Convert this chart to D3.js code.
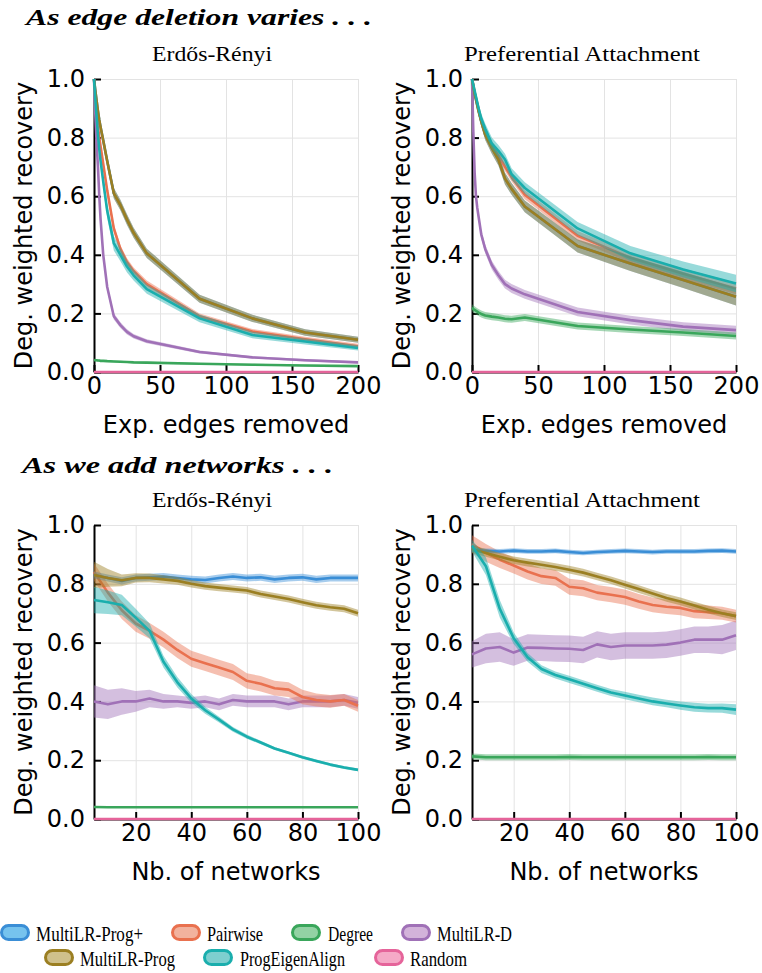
<!DOCTYPE html>
<html>
<head>
<meta charset="utf-8">
<script src="https://cdn.jsdelivr.net/npm/d3@7"></script>
<style>
  body { margin: 0; background: #fff; }
  svg { display: block; }
</style>
</head>
<body>
<div id="chart"></div>
<script>
// Method names, in legend order
const methods = ["MultiLR-Prog+", "Pairwise", "Degree", "MultiLR-D", "MultiLR-Prog", "ProgEigenAlign", "Random"];

// x values
const edgesRemoved = [0, 1, 2, 3, 4, 5, 7, 10, 15, 20, 25, 30, 40, 80, 120, 160, 200];
const networkCounts = [5, 10, 15, 20, 25, 30, 35, 40, 45, 50, 55, 60, 65, 70, 75, 80, 85, 90, 95, 100];

// tick labels
const edgeTicks = [0, 50, 100, 150, 200];
const networkTicks = [20, 40, 60, 80, 100];
const recoveryTicks = [0, 0.2, 0.4, 0.6, 0.8, 1.0];

// --- Erdos-Renyi, edge deletion (mean, half band)
const erEdgeProgPlus = [1.0, 0.96, 0.925, 0.89, 0.86, 0.835, 0.79, 0.72, 0.61, 0.57, 0.52, 0.475, 0.405, 0.25, 0.183, 0.135, 0.11];
const erEdgePairwise = [1.0, 0.94, 0.89, 0.84, 0.80, 0.77, 0.71, 0.62, 0.49, 0.42, 0.375, 0.345, 0.30, 0.19, 0.138, 0.112, 0.088];
const erEdgeDegree = [0.041, 0.040, 0.040, 0.039, 0.039, 0.038, 0.038, 0.037, 0.036, 0.035, 0.034, 0.033, 0.032, 0.028, 0.025, 0.022, 0.020];
const erEdgeMultiD = [1.0, 0.88, 0.78, 0.70, 0.60, 0.52, 0.40, 0.29, 0.19, 0.16, 0.137, 0.122, 0.105, 0.068, 0.05, 0.04, 0.033];
const erEdgeProg = [1.0, 0.96, 0.925, 0.89, 0.86, 0.835, 0.79, 0.72, 0.61, 0.57, 0.52, 0.475, 0.405, 0.25, 0.183, 0.135, 0.11];
const erEdgeEigen = [1.0, 0.93, 0.87, 0.81, 0.76, 0.72, 0.65, 0.55, 0.44, 0.40, 0.36, 0.33, 0.283, 0.183, 0.126, 0.104, 0.082];
const erEdgeRandom = [0, 0, 0, 0, 0, 0, 0, 0, 0, 0, 0, 0, 0, 0, 0, 0, 0];

const erEdgeProgPlusSd = [0, 0.01, 0.012, 0.014, 0.015, 0.015, 0.016, 0.017, 0.018, 0.018, 0.018, 0.017, 0.016, 0.014, 0.012, 0.011, 0.01];
const erEdgePairwiseSd = [0, 0.008, 0.01, 0.012, 0.012, 0.013, 0.013, 0.014, 0.014, 0.013, 0.013, 0.012, 0.012, 0.01, 0.009, 0.008, 0.008];
const erEdgeDegreeSd = [0.003, 0.003, 0.003, 0.003, 0.003, 0.003, 0.003, 0.003, 0.003, 0.003, 0.003, 0.003, 0.003, 0.003, 0.003, 0.003, 0.003];
const erEdgeMultiDSd = [0, 0.01, 0.012, 0.012, 0.012, 0.012, 0.012, 0.012, 0.011, 0.01, 0.009, 0.008, 0.007, 0.005, 0.004, 0.004, 0.004];
const erEdgeProgSd = [0, 0.01, 0.012, 0.014, 0.015, 0.015, 0.016, 0.017, 0.018, 0.018, 0.018, 0.017, 0.016, 0.014, 0.012, 0.011, 0.01];
const erEdgeEigenSd = [0, 0.012, 0.015, 0.018, 0.02, 0.022, 0.024, 0.025, 0.025, 0.022, 0.02, 0.018, 0.016, 0.013, 0.011, 0.01, 0.009];
const erEdgeRandomSd = [0.001, 0.001, 0.001, 0.001, 0.001, 0.001, 0.001, 0.001, 0.001, 0.001, 0.001, 0.001, 0.001, 0.001, 0.001, 0.001, 0.001];

// --- Preferential attachment, edge deletion
const paEdgeProgPlus = [1.0, 0.975, 0.95, 0.93, 0.91, 0.89, 0.855, 0.81, 0.765, 0.725, 0.66, 0.625, 0.565, 0.43, 0.37, 0.314, 0.257];
const paEdgePairwise = [1.0, 0.98, 0.955, 0.935, 0.915, 0.895, 0.86, 0.82, 0.77, 0.74, 0.70, 0.665, 0.605, 0.465, 0.39, 0.335, 0.285];
const paEdgeDegree = [0.219, 0.215, 0.212, 0.209, 0.206, 0.203, 0.198, 0.193, 0.189, 0.186, 0.182, 0.18, 0.186, 0.157, 0.145, 0.135, 0.123];
const paEdgeMultiD = [1.0, 0.82, 0.68, 0.60, 0.56, 0.53, 0.47, 0.42, 0.365, 0.33, 0.30, 0.285, 0.265, 0.205, 0.177, 0.155, 0.143];
const paEdgeProg = [1.0, 0.975, 0.95, 0.93, 0.91, 0.89, 0.855, 0.81, 0.765, 0.725, 0.66, 0.625, 0.565, 0.43, 0.37, 0.314, 0.257];
const paEdgeEigen = [1.0, 0.98, 0.96, 0.94, 0.92, 0.90, 0.865, 0.83, 0.78, 0.755, 0.725, 0.675, 0.628, 0.49, 0.405, 0.35, 0.302];
const paEdgeRandom = [0, 0, 0, 0, 0, 0, 0, 0, 0, 0, 0, 0, 0, 0, 0, 0, 0];

const paEdgeProgPlusSd = [0, 0.01, 0.012, 0.014, 0.015, 0.016, 0.017, 0.018, 0.02, 0.02, 0.02, 0.02, 0.02, 0.022, 0.025, 0.027, 0.03];
const paEdgePairwiseSd = [0, 0.008, 0.01, 0.012, 0.012, 0.013, 0.013, 0.014, 0.015, 0.015, 0.015, 0.015, 0.015, 0.016, 0.017, 0.018, 0.02];
const paEdgeDegreeSd = [0.012, 0.012, 0.012, 0.012, 0.012, 0.012, 0.012, 0.012, 0.012, 0.012, 0.012, 0.012, 0.012, 0.012, 0.012, 0.012, 0.012];
const paEdgeMultiDSd = [0, 0.015, 0.015, 0.015, 0.015, 0.015, 0.015, 0.015, 0.015, 0.015, 0.015, 0.015, 0.015, 0.015, 0.015, 0.015, 0.015];
const paEdgeProgSd = [0, 0.01, 0.012, 0.014, 0.015, 0.016, 0.017, 0.018, 0.02, 0.02, 0.02, 0.02, 0.02, 0.022, 0.025, 0.027, 0.03];
const paEdgeEigenSd = [0, 0.01, 0.012, 0.014, 0.015, 0.016, 0.017, 0.018, 0.02, 0.02, 0.02, 0.02, 0.02, 0.022, 0.025, 0.027, 0.03];
const paEdgeRandomSd = [0.001, 0.001, 0.001, 0.001, 0.001, 0.001, 0.001, 0.001, 0.001, 0.001, 0.001, 0.001, 0.001, 0.001, 0.001, 0.001, 0.001];

// --- Erdos-Renyi, adding networks
const erNetProgPlus = [0.83, 0.82, 0.81, 0.82, 0.822, 0.825, 0.82, 0.815, 0.813, 0.82, 0.825, 0.82, 0.822, 0.815, 0.82, 0.822, 0.815, 0.82, 0.82, 0.82];
const erNetPairwise = [0.84, 0.77, 0.71, 0.665, 0.64, 0.61, 0.575, 0.545, 0.53, 0.515, 0.50, 0.47, 0.46, 0.445, 0.44, 0.415, 0.405, 0.40, 0.405, 0.385];
const erNetDegree = [0.041, 0.04, 0.04, 0.04, 0.04, 0.04, 0.04, 0.04, 0.04, 0.04, 0.04, 0.04, 0.04, 0.04, 0.04, 0.04, 0.04, 0.04, 0.04, 0.04];
const erNetMultiD = [0.40, 0.39, 0.40, 0.40, 0.41, 0.40, 0.40, 0.395, 0.40, 0.39, 0.405, 0.40, 0.40, 0.40, 0.39, 0.40, 0.40, 0.40, 0.405, 0.395];
const erNetProg = [0.83, 0.82, 0.812, 0.82, 0.82, 0.815, 0.81, 0.80, 0.792, 0.787, 0.782, 0.777, 0.765, 0.757, 0.748, 0.737, 0.727, 0.72, 0.715, 0.70];
const erNetEigen = [0.745, 0.737, 0.728, 0.685, 0.64, 0.535, 0.465, 0.41, 0.37, 0.338, 0.305, 0.28, 0.26, 0.24, 0.225, 0.21, 0.197, 0.185, 0.175, 0.167];
const erNetRandom = [0, 0, 0, 0, 0, 0, 0, 0, 0, 0, 0, 0, 0, 0, 0, 0, 0, 0, 0, 0];

const erNetProgPlusSd = [0.012, 0.012, 0.012, 0.012, 0.012, 0.012, 0.012, 0.012, 0.012, 0.012, 0.012, 0.012, 0.012, 0.012, 0.012, 0.012, 0.012, 0.012, 0.012, 0.012];
const erNetPairwiseSd = [0.03, 0.03, 0.03, 0.028, 0.027, 0.027, 0.027, 0.027, 0.027, 0.027, 0.027, 0.026, 0.026, 0.025, 0.025, 0.025, 0.022, 0.022, 0.02, 0.02];
const erNetDegreeSd = [0.003, 0.003, 0.003, 0.003, 0.003, 0.003, 0.003, 0.003, 0.003, 0.003, 0.003, 0.003, 0.003, 0.003, 0.003, 0.003, 0.003, 0.003, 0.003, 0.003];
const erNetMultiDSd = [0.055, 0.05, 0.045, 0.035, 0.03, 0.025, 0.02, 0.02, 0.02, 0.02, 0.02, 0.02, 0.02, 0.02, 0.02, 0.02, 0.02, 0.02, 0.02, 0.02];
const erNetProgSd = [0.045, 0.03, 0.02, 0.016, 0.015, 0.014, 0.013, 0.013, 0.012, 0.012, 0.012, 0.012, 0.012, 0.012, 0.012, 0.012, 0.012, 0.012, 0.012, 0.012];
const erNetEigenSd = [0.045, 0.04, 0.035, 0.03, 0.025, 0.02, 0.018, 0.015, 0.012, 0.01, 0.008, 0.007, 0.006, 0.005, 0.005, 0.005, 0.005, 0.005, 0.005, 0.005];
const erNetRandomSd = [0.001, 0.001, 0.001, 0.001, 0.001, 0.001, 0.001, 0.001, 0.001, 0.001, 0.001, 0.001, 0.001, 0.001, 0.001, 0.001, 0.001, 0.001, 0.001, 0.001];

// --- Preferential attachment, adding networks
const paNetProgPlus = [0.915, 0.912, 0.91, 0.913, 0.91, 0.91, 0.912, 0.908, 0.905, 0.908, 0.91, 0.912, 0.91, 0.908, 0.91, 0.91, 0.91, 0.912, 0.913, 0.91];
const paNetPairwise = [0.935, 0.905, 0.882, 0.862, 0.842, 0.826, 0.82, 0.79, 0.785, 0.77, 0.763, 0.755, 0.74, 0.728, 0.722, 0.718, 0.707, 0.703, 0.70, 0.69];
const paNetDegree = [0.213, 0.21, 0.21, 0.21, 0.21, 0.21, 0.21, 0.211, 0.21, 0.21, 0.21, 0.21, 0.21, 0.21, 0.21, 0.21, 0.21, 0.211, 0.21, 0.21];
const paNetMultiD = [0.56, 0.58, 0.585, 0.566, 0.583, 0.582, 0.58, 0.579, 0.575, 0.594, 0.585, 0.59, 0.59, 0.59, 0.593, 0.60, 0.61, 0.61, 0.61, 0.625];
const paNetProg = [0.918, 0.905, 0.892, 0.88, 0.872, 0.865, 0.857, 0.848, 0.838, 0.825, 0.812, 0.797, 0.782, 0.767, 0.752, 0.74, 0.726, 0.712, 0.70, 0.69];
const paNetEigen = [0.93, 0.86, 0.715, 0.615, 0.55, 0.51, 0.49, 0.475, 0.46, 0.445, 0.43, 0.42, 0.41, 0.40, 0.393, 0.386, 0.38, 0.377, 0.377, 0.372];
const paNetRandom = [0, 0, 0, 0, 0, 0, 0, 0, 0, 0, 0, 0, 0, 0, 0, 0, 0, 0, 0, 0];

const paNetProgPlusSd = [0.008, 0.008, 0.008, 0.008, 0.008, 0.008, 0.008, 0.008, 0.008, 0.008, 0.008, 0.008, 0.008, 0.008, 0.008, 0.008, 0.008, 0.008, 0.008, 0.008];
const paNetPairwiseSd = [0.03, 0.03, 0.028, 0.027, 0.027, 0.027, 0.027, 0.027, 0.027, 0.026, 0.026, 0.026, 0.025, 0.025, 0.025, 0.025, 0.024, 0.023, 0.022, 0.022];
const paNetDegreeSd = [0.01, 0.01, 0.01, 0.01, 0.01, 0.01, 0.01, 0.01, 0.01, 0.01, 0.01, 0.01, 0.01, 0.01, 0.01, 0.01, 0.01, 0.01, 0.01, 0.01];
const paNetMultiDSd = [0.045, 0.05, 0.05, 0.045, 0.045, 0.045, 0.045, 0.045, 0.045, 0.045, 0.045, 0.045, 0.045, 0.045, 0.045, 0.045, 0.045, 0.045, 0.05, 0.05];
const paNetProgSd = [0.013, 0.013, 0.013, 0.013, 0.013, 0.013, 0.013, 0.013, 0.013, 0.013, 0.013, 0.013, 0.013, 0.013, 0.013, 0.013, 0.013, 0.013, 0.013, 0.013];
const paNetEigenSd = [0.02, 0.03, 0.03, 0.02, 0.015, 0.013, 0.012, 0.012, 0.012, 0.012, 0.012, 0.013, 0.013, 0.013, 0.013, 0.014, 0.015, 0.015, 0.016, 0.018];
const paNetRandomSd = [0.001, 0.001, 0.001, 0.001, 0.001, 0.001, 0.001, 0.001, 0.001, 0.001, 0.001, 0.001, 0.001, 0.001, 0.001, 0.001, 0.001, 0.001, 0.001, 0.001];

// Colours
const lineColors = {
  "MultiLR-Prog+": "#3a8ed6", "Pairwise": "#e9714f", "Degree": "#3aa65b", "MultiLR-D": "#a071b7",
  "MultiLR-Prog": "#9b7f22", "ProgEigenAlign": "#1aaead", "Random": "#e5649a"
};
const patchFills = {
  "MultiLR-Prog+": "#76c3ee", "Pairwise": "#f2b29e", "Degree": "#93d2a4", "MultiLR-D": "#d3b3da",
  "MultiLR-Prog": "#d0c18c", "ProgEigenAlign": "#7ecfcf", "Random": "#f5a9c7"
};

// draw order on the plots
const drawOrder = ["MultiLR-D", "Degree", "Pairwise", "MultiLR-Prog+", "MultiLR-Prog", "ProgEigenAlign", "Random"];

const width = 762, height = 973;
const svg = d3.select("#chart").append("svg")
  .attr("width", width).attr("height", height);

const panels = [
  { left: 94, right: 358, top: 79, bottom: 372, xs: edgesRemoved, xDomain: [0, 200], xTicks: edgeTicks,
    title: "Erdős-Rényi", titleX: 212, titleW: 120, xLabel: "Exp. edges removed",
    series: {
      "MultiLR-Prog+": [erEdgeProgPlus, erEdgeProgPlusSd], "Pairwise": [erEdgePairwise, erEdgePairwiseSd],
      "Degree": [erEdgeDegree, erEdgeDegreeSd], "MultiLR-D": [erEdgeMultiD, erEdgeMultiDSd],
      "MultiLR-Prog": [erEdgeProg, erEdgeProgSd], "ProgEigenAlign": [erEdgeEigen, erEdgeEigenSd],
      "Random": [erEdgeRandom, erEdgeRandomSd] } },
  { left: 472, right: 736, top: 79, bottom: 372, xs: edgesRemoved, xDomain: [0, 200], xTicks: edgeTicks,
    title: "Preferential Attachment", titleX: 582, titleW: 236, xLabel: "Exp. edges removed",
    series: {
      "MultiLR-Prog+": [paEdgeProgPlus, paEdgeProgPlusSd], "Pairwise": [paEdgePairwise, paEdgePairwiseSd],
      "Degree": [paEdgeDegree, paEdgeDegreeSd], "MultiLR-D": [paEdgeMultiD, paEdgeMultiDSd],
      "MultiLR-Prog": [paEdgeProg, paEdgeProgSd], "ProgEigenAlign": [paEdgeEigen, paEdgeEigenSd],
      "Random": [paEdgeRandom, paEdgeRandomSd] } },
  { left: 94, right: 358, top: 525, bottom: 819, xs: networkCounts, xDomain: [5, 100], xTicks: networkTicks,
    title: "Erdős-Rényi", titleX: 212, titleW: 120, xLabel: "Nb. of networks",
    series: {
      "MultiLR-Prog+": [erNetProgPlus, erNetProgPlusSd], "Pairwise": [erNetPairwise, erNetPairwiseSd],
      "Degree": [erNetDegree, erNetDegreeSd], "MultiLR-D": [erNetMultiD, erNetMultiDSd],
      "MultiLR-Prog": [erNetProg, erNetProgSd], "ProgEigenAlign": [erNetEigen, erNetEigenSd],
      "Random": [erNetRandom, erNetRandomSd] } },
  { left: 472, right: 736, top: 525, bottom: 819, xs: networkCounts, xDomain: [5, 100], xTicks: networkTicks,
    title: "Preferential Attachment", titleX: 582, titleW: 236, xLabel: "Nb. of networks",
    series: {
      "MultiLR-Prog+": [paNetProgPlus, paNetProgPlusSd], "Pairwise": [paNetPairwise, paNetPairwiseSd],
      "Degree": [paNetDegree, paNetDegreeSd], "MultiLR-D": [paNetMultiD, paNetMultiDSd],
      "MultiLR-Prog": [paNetProg, paNetProgSd], "ProgEigenAlign": [paNetEigen, paNetEigenSd],
      "Random": [paNetRandom, paNetRandomSd] } }
];

// Section headings
svg.append("text")
  .attr("x", 26).attr("y", 25)
  .attr("font-family", "'Liberation Serif', serif").attr("font-size", 23)
  .attr("font-weight", "bold").attr("font-style", "italic")
  .attr("textLength", 346).attr("lengthAdjust", "spacingAndGlyphs")
  .text("As edge deletion varies . . .");

svg.append("text")
  .attr("x", 22).attr("y", 473)
  .attr("font-family", "'Liberation Serif', serif").attr("font-size", 23)
  .attr("font-weight", "bold").attr("font-style", "italic")
  .attr("textLength", 311).attr("lengthAdjust", "spacingAndGlyphs")
  .text("As we add networks . . .");

panels.forEach(p => {
  const x = d3.scaleLinear().domain(p.xDomain).range([p.left, p.right]);
  const y = d3.scaleLinear().domain([0, 1]).range([p.bottom, p.top]);
  const g = svg.append("g");

  // grid
  g.append("g")
    .attr("transform", `translate(0,${p.bottom})`)
    .call(d3.axisBottom(x).tickValues(p.xTicks).tickSize(-(p.bottom - p.top)).tickFormat(""))
    .call(a => a.select(".domain").remove())
    .selectAll("line").attr("stroke", "#e3e3e3").attr("stroke-width", 1);
  g.append("g")
    .attr("transform", `translate(${p.left},0)`)
    .call(d3.axisLeft(y).tickValues(recoveryTicks).tickSize(-(p.right - p.left)).tickFormat(""))
    .call(a => a.select(".domain").remove())
    .selectAll("line").attr("stroke", "#e3e3e3").attr("stroke-width", 1);

  // axes with inward ticks
  const yAxis = g.append("g")
    .attr("transform", `translate(${p.left},0)`)
    .call(d3.axisLeft(y).tickValues(recoveryTicks).tickSize(-7).tickSizeOuter(0).tickPadding(9).tickFormat(d3.format(".1f")));
  const xAxis = g.append("g")
    .attr("transform", `translate(0,${p.bottom})`)
    .call(d3.axisBottom(x).tickValues(p.xTicks).tickSize(-7).tickSizeOuter(0).tickPadding(5));
  [yAxis, xAxis].forEach(a => {
    a.select(".domain").attr("stroke", "#000").attr("stroke-width", 2);
    a.selectAll(".tick line").attr("stroke", "#000").attr("stroke-width", 2);
    a.selectAll("text").attr("font-family", "'DejaVu Sans', sans-serif").attr("font-size", 24).attr("fill", "#000");
  });

  // labels
  g.append("text")
    .attr("x", (p.left + p.right) / 2).attr("y", p.bottom + 61)
    .attr("text-anchor", "middle")
    .attr("font-family", "'DejaVu Sans', sans-serif").attr("font-size", 24)
    .text(p.xLabel);
  g.append("text")
    .attr("transform", `translate(${p.left - 62},${(p.top + p.bottom) / 2}) rotate(-90)`)
    .attr("text-anchor", "middle")
    .attr("font-family", "'DejaVu Sans', sans-serif").attr("font-size", 24)
    .text("Deg. weighted recovery");
  g.append("text")
    .attr("x", p.titleX).attr("y", p.top - 18)
    .attr("text-anchor", "middle")
    .attr("font-family", "'Liberation Serif', serif").attr("font-size", 21)
    .attr("textLength", p.titleW).attr("lengthAdjust", "spacingAndGlyphs")
    .text(p.title);

  // bands and lines
  drawOrder.forEach(name => {
    const [mean, sd] = p.series[name];
    const rows = p.xs.map((xv, i) => ({ x: xv, m: mean[i], s: sd[i] }));
    const band = d3.area()
      .x(d => x(d.x))
      .y0(d => y(Math.max(0, d.m - d.s)))
      .y1(d => y(Math.min(1, d.m + d.s)));
    const line = d3.line().x(d => x(d.x)).y(d => y(d.m));
    g.append("path").datum(rows)
      .attr("d", band).attr("fill", lineColors[name]).attr("fill-opacity", 0.45).attr("stroke", "none");
    g.append("path").datum(rows)
      .attr("d", line).attr("fill", "none").attr("stroke", lineColors[name])
      .attr("stroke-width", 2.6).attr("stroke-linejoin", "round");
  });
});

// Legend
const legendItems = [
  { name: "MultiLR-Prog+", px: 0, tx: 36, ty: 941, w: 107 },
  { name: "Pairwise", px: 171, tx: 207, ty: 941, w: 56 },
  { name: "Degree", px: 291, tx: 328, ty: 941, w: 45 },
  { name: "MultiLR-D", px: 401, tx: 437, ty: 941, w: 75 },
  { name: "MultiLR-Prog", px: 44, tx: 80, ty: 966, w: 95 },
  { name: "ProgEigenAlign", px: 203, tx: 240, ty: 966, w: 105 },
  { name: "Random", px: 374, tx: 410, ty: 966, w: 57 }
];
const legend = svg.append("g");
legendItems.forEach(it => {
  legend.append("rect")
    .attr("x", it.px + 1.5).attr("y", it.ty - 15.5)
    .attr("width", 27).attr("height", 14).attr("rx", 7).attr("ry", 7)
    .attr("fill", patchFills[it.name]).attr("stroke", lineColors[it.name]).attr("stroke-width", 3);
  legend.append("text")
    .attr("x", it.tx).attr("y", it.ty)
    .attr("font-family", "'Liberation Serif', serif").attr("font-size", 21)
    .attr("textLength", it.w).attr("lengthAdjust", "spacingAndGlyphs")
    .text(it.name);
});
</script>
</body>
</html>
